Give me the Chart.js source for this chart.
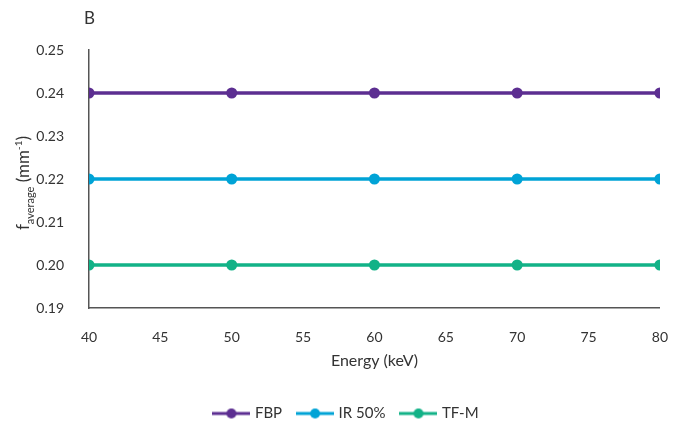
<!DOCTYPE html>
<html lang="en">
<head>
    <meta charset="UTF-8">
    <title>f average vs Energy</title>
    <script src="https://cdn.jsdelivr.net/npm/chart.js"></script>
    <style>
        html, body { margin: 0; padding: 0; background: #ffffff; }
        #wrap { width: 681px; height: 422px; }
    </style>
</head>
<body>
    <div id="wrap"><canvas id="chart"></canvas></div>
    <script>
        // Datos de la gráfica
        const energias = [40, 50, 60, 70, 80];
        const fbp = [0.24, 0.24, 0.24, 0.24, 0.24];
        const ir50 = [0.22, 0.22, 0.22, 0.22, 0.22];
        const tfm = [0.20, 0.20, 0.20, 0.20, 0.20];
        const series = ['FBP', 'IR 50%', 'TF-M'];
        const colores = ['#5c2e91', '#00a3d6', '#12b287'];

        const fuente = 'Lato, "Noto Sans", sans-serif';
        const textoColor = '#333333';

        // Marcador de leyenda: línea con punto
        function marcador(color) {
            const c = document.createElement('canvas');
            c.width = 38; c.height = 12;
            const ctx = c.getContext('2d');
            ctx.strokeStyle = color;
            ctx.lineWidth = 3;
            ctx.beginPath();
            ctx.moveTo(0, 6); ctx.lineTo(38, 6);
            ctx.stroke();
            ctx.fillStyle = color;
            ctx.beginPath();
            ctx.arc(19, 6, 5, 0, Math.PI * 2);
            ctx.fill();
            return c;
        }

        function serie(label, valores, color) {
            return {
                label: label,
                data: energias.map((x, i) => ({ x: x, y: valores[i] })),
                borderColor: color,
                backgroundColor: color,
                borderWidth: 3.5,
                pointRadius: 5.5,
                pointHoverRadius: 5.5,
                pointBorderWidth: 0,
                pointStyle: 'circle'
            };
        }

        // Texto extra: letra del panel y título del eje Y con subíndice/superíndice
        const textosExtra = {
            id: 'textosExtra',
            afterLayout(chart) {
                // ajustar un poco la posición horizontal de la leyenda
                chart.legend.left -= 1;
                chart.legend.right -= 1;
            },
            afterDraw(chart) {
                const ctx = chart.ctx;
                ctx.save();
                ctx.fillStyle = textoColor;
                ctx.textBaseline = 'alphabetic';
                ctx.font = '17px ' + fuente;
                ctx.fillText('B', 84, 24);

                // Título del eje Y rotado
                ctx.translate(23, 183);
                ctx.rotate(-Math.PI / 2);
                const partes = [
                    { t: 'f', size: 17, dy: 0 },
                    { t: 'average', size: 11, dy: 5 },
                    { t: ' (mm', size: 17, dy: 0 },
                    { t: '-1', size: 10, dy: -7 },
                    { t: ')', size: 17, dy: 0 }
                ];
                let total = 0;
                partes.forEach(p => { ctx.font = p.size + 'px ' + fuente; p.w = ctx.measureText(p.t).width; total += p.w; });
                let x = -total / 2;
                partes.forEach(p => {
                    ctx.font = p.size + 'px ' + fuente;
                    ctx.fillText(p.t, x, 6 + p.dy);
                    x += p.w;
                });
                ctx.restore();
            }
        };

        new Chart(document.getElementById('chart'), {
            type: 'line',
            data: {
                datasets: [
                    serie(series[0], fbp, colores[0]),
                    serie(series[1], ir50, colores[1]),
                    serie(series[2], tfm, colores[2])
                ]
            },
            options: {
                responsive: true,
                maintainAspectRatio: false,
                animation: false,
                events: [],
                layout: { padding: { top: 50, right: 20, left: 35, bottom: -9 } },
                scales: {
                    x: {
                        type: 'linear',
                        min: 40,
                        max: 80,
                        grid: { display: false },
                        border: { display: true, color: '#555555', width: 1.5 },
                        ticks: { stepSize: 5, padding: 13, color: textoColor, font: { family: fuente, size: 14 } },
                        title: { display: true, text: 'Energy (keV)', color: textoColor, padding: { top: -8, bottom: 19 }, font: { family: fuente, size: 16 } }
                    },
                    y: {
                        min: 0.19,
                        max: 0.25,
                        grid: { display: false },
                        border: { display: true, color: '#555555', width: 1.5 },
                        ticks: {
                            stepSize: 0.01,
                            padding: 17,
                            color: textoColor,
                            font: { family: fuente, size: 14 },
                            callback: v => v.toFixed(2)
                        },
                        afterFit(scale) { scale.width = 54; }
                    }
                },
                plugins: {
                    tooltip: { enabled: false },
                    legend: {
                        position: 'bottom',
                        labels: {
                            usePointStyle: true,
                            pointStyleWidth: 32,
                            color: textoColor,
                            padding: 17,
                            font: { family: fuente, size: 15 },
                            generateLabels(chart) {
                                return chart.data.datasets.map((ds, i) => ({
                                    text: ds.label,
                                    fontColor: textoColor,
                                    pointStyle: marcador(ds.borderColor),
                                    fillStyle: ds.borderColor,
                                    strokeStyle: ds.borderColor,
                                    lineWidth: 0,
                                    hidden: false,
                                    datasetIndex: i
                                }));
                            }
                        }
                    }
                }
            },
            plugins: [textosExtra]
        });
    </script>
</body>
</html>
